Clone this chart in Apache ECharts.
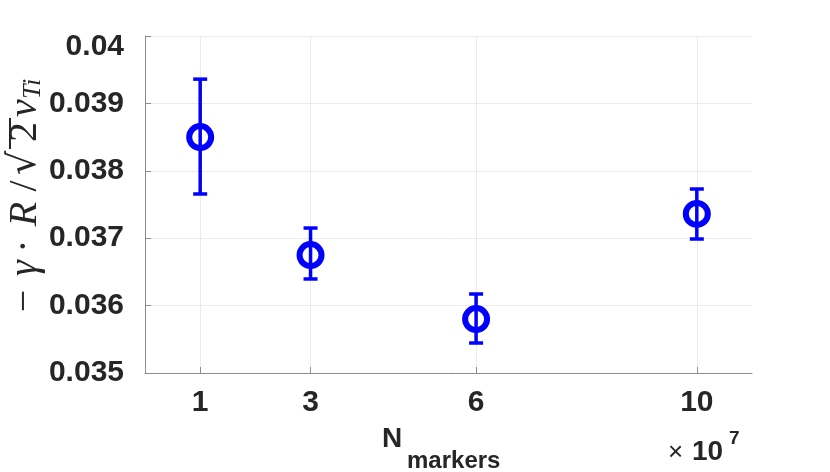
<!DOCTYPE html>
<html>
<head>
<meta charset="utf-8">
<script src="https://cdn.jsdelivr.net/npm/echarts@6/dist/echarts.min.js"></script>
<style>
  html, body { margin: 0; padding: 0; background: #fff; }
  #chart { width: 830px; height: 472px; }
</style>
</head>
<body>
<div id="chart"></div>
<script>
// data
var nMarkers = [1, 3, 6, 10]
var gammaVals = [0.03850, 0.03675, 0.03580, 0.03736]
var errLow = [0.037656, 0.036395, 0.035445, 0.036988]
var errHigh = [0.03936, 0.037151, 0.036172, 0.03773]

var blue = '#0000ff'
var axisColor = '#8c8c8c'
var textColor = '#262626'
var serif = 'Liberation Serif'
var sans = 'Liberation Sans'

var chart = echarts.init(document.getElementById('chart'))

function label(x, y, text, size, weight) {
  return {
    type: 'text',
    x: x,
    y: y,
    style: {
      text: text,
      verticalAlign: 'middle',
      fill: textColor,
      fontFamily: sans,
      fontSize: size,
      fontWeight: weight
    }
  }
}

// one piece of the rotated y label (x runs along the label)
function piece(x, y, text, family, size, italic) {
  return {
    type: 'text',
    x: x,
    y: y,
    style: {
      text: text,
      align: 'center',
      verticalAlign: 'middle',
      fill: textColor,
      fontFamily: family,
      fontSize: size,
      fontStyle: italic ? 'italic' : 'normal'
    }
  }
}

var option = {
  animation: false,
  grid: { left: 145, right: 78, top: 36, bottom: 99 },
  xAxis: {
    type: 'value',
    min: 0,
    max: 11,
    axisLine: { show: true, lineStyle: { color: axisColor, width: 1 } },
    axisTick: { show: true, inside: true, length: 6, customValues: nMarkers, lineStyle: { color: axisColor } },
    axisLabel: {
      customValues: nMarkers,
      margin: 15,
      color: textColor,
      fontFamily: sans,
      fontWeight: 'bold',
      fontSize: 30
    },
    splitLine: { show: false }
  },
  yAxis: {
    type: 'value',
    min: 0.035,
    max: 0.04,
    interval: 0.001,
    axisLine: { show: true, lineStyle: { color: axisColor, width: 1 } },
    axisTick: { show: true, inside: true, length: 6, lineStyle: { color: axisColor } },
    axisLabel: {
      margin: 21,
      color: textColor,
      fontFamily: sans,
      fontWeight: 'bold',
      fontSize: 30,
      formatter: function (v) {
        var s = String(+v.toFixed(3))
        return v >= 0.04 ? '{top|' + s + '}' : s
      },
      rich: {
        top: { fontFamily: sans, fontWeight: 'bold', fontSize: 30, color: textColor, padding: [22, 0, 0, 0] }
      }
    },
    splitLine: { show: true, lineStyle: { color: '#ebebeb', width: 1 } }
  },
  graphic: [
    {
      type: 'group',
      x: 25,
      y: 202,
      rotation: Math.PI / 2,
      children: [
        piece(-99, 0, '−', serif, 40, false),
        piece(-66, 0, 'γ', serif, 40, true),
        piece(-44, 0, '·', serif, 40, false),
        piece(-12, 0, 'R', serif, 40, true),
        piece(16, 0, '/', serif, 40, false),
        piece(39, 0, '√', 'DejaVu Serif', 38, false),
        piece(70, 0, '2', serif, 40, false),
        piece(94, 0, 'v', serif, 40, true),
        piece(113, 8, 'Ti', serif, 26, true),
        { type: 'rect', shape: { x: 53, y: -16, width: 31, height: 2 }, style: { fill: textColor } }
      ]
    },
    label(382, 439, 'N', 28, 'bold'),
    label(407, 461, 'markers', 24, 'bold'),
    label(668, 453, '×', 26, 'normal'),
    label(692, 452, '10', 28, 'bold'),
    label(729, 439, '7', 19, 'bold')
  ],
  series: [
    {
      type: 'custom',
      data: nMarkers.map(function (x, i) { return [x, errLow[i], errHigh[i]] }),
      renderItem: function (params, api) {
        var lo = api.coord([api.value(0), api.value(1)])
        var hi = api.coord([api.value(0), api.value(2)])
        var cap = 7
        var st = { stroke: blue, lineWidth: 3.5 }
        return {
          type: 'group',
          children: [
            { type: 'line', shape: { x1: lo[0], y1: lo[1], x2: hi[0], y2: hi[1] }, style: st },
            { type: 'line', shape: { x1: lo[0] - cap, y1: lo[1], x2: lo[0] + cap, y2: lo[1] }, style: st },
            { type: 'line', shape: { x1: hi[0] - cap, y1: hi[1], x2: hi[0] + cap, y2: hi[1] }, style: st }
          ]
        }
      },
      markLine: {
        silent: true,
        symbol: 'none',
        label: { show: false },
        lineStyle: { color: '#ebebeb', width: 1, type: 'solid', opacity: 1 },
        data: nMarkers.map(function (x) { return { xAxis: x } }),
        z: 0
      },
      z: 2
    },
    {
      type: 'scatter',
      data: nMarkers.map(function (x, i) { return [x, gammaVals[i]] }),
      symbol: 'circle',
      symbolSize: 22,
      itemStyle: { color: 'rgba(0,0,0,0)', borderColor: blue, borderWidth: 6, opacity: 1 },
      z: 3
    }
  ]
}

chart.setOption(option)
</script>
</body>
</html>
